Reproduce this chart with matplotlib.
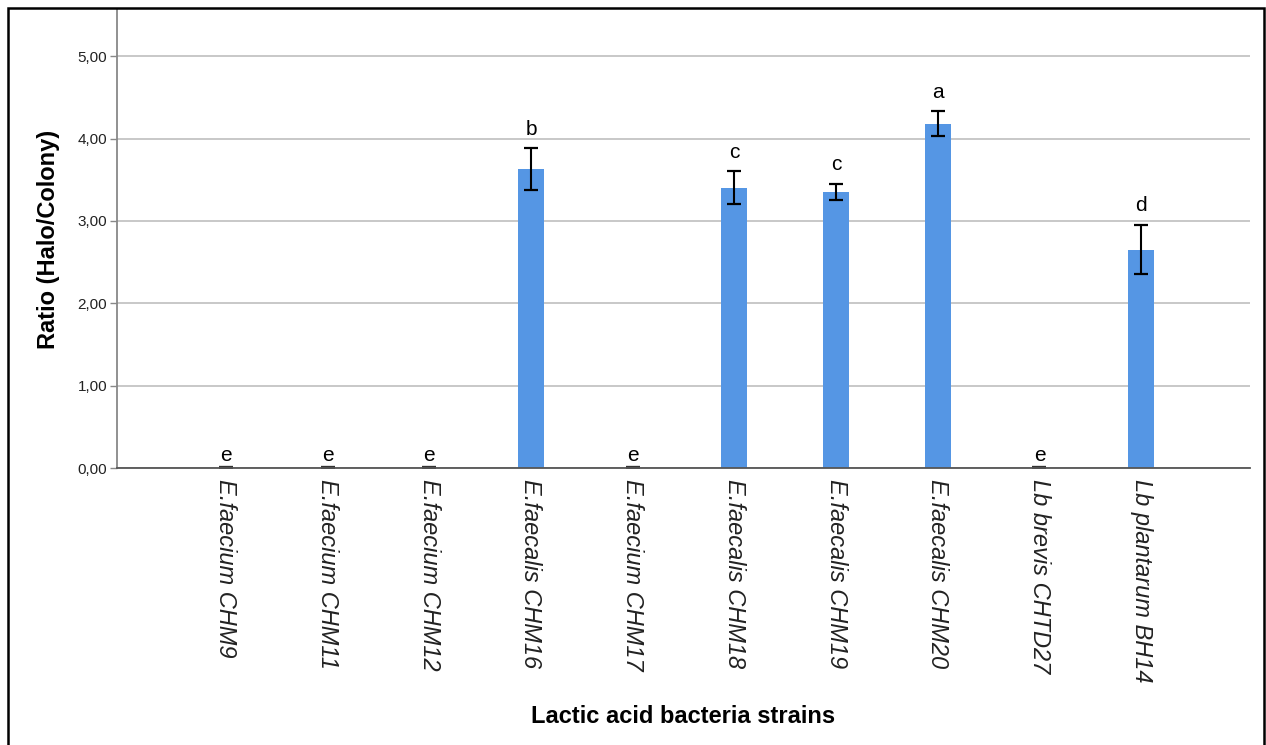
import matplotlib
matplotlib.use("Agg")
import matplotlib.pyplot as plt
from matplotlib.patches import Rectangle

plt.rcParams["font.family"] = ["Liberation Sans", "DejaVu Sans"]

strains = ["E.faecium CHM9", "E.faecium CHM11", "E.faecium CHM12", "E.faecalis CHM16",
           "E.faecium CHM17", "E.faecalis CHM18", "E.faecalis CHM19", "E.faecalis CHM20",
           "Lb brevis CHTD27", "Lb plantarum BH14"]
ratio = [0.00, 0.00, 0.00, 3.63, 0.00, 3.40, 3.35, 4.18, 0.00, 2.65]
sd = [0.00, 0.00, 0.00, 0.25, 0.00, 0.20, 0.10, 0.15, 0.00, 0.30]
groups = ["e", "e", "e", "b", "e", "c", "c", "a", "e", "d"]
yticks = [0, 1, 2, 3, 4, 5]

BAR = "#5596E4"
GRID = "#C8C8C8"

fig = plt.figure(figsize=(12.66, 7.45), dpi=100)
fig.patch.set_facecolor("white")
ax = fig.add_axes([117 / 1266, 1 - 468 / 745, (1250 - 117) / 1266, (468 - 10) / 745])

x = list(range(len(strains)))
ax.bar(x, ratio, width=0.255, color=BAR, zorder=3)
ax.errorbar(x, ratio, yerr=sd, fmt="none", ecolor="black", elinewidth=1.5,
            capsize=5, capthick=1.6, zorder=4)
# zero-height strains still show their (collapsed) error caps on the baseline
ax.errorbar([i for i in x if ratio[i] == 0], [0] * ratio.count(0), yerr=0, fmt="none",
            ecolor="#333333", capsize=5, capthick=3, zorder=4)

for i in x:
    top = ratio[i] + sd[i]
    ax.annotate(groups[i], (i, top), xytext=(0, 7 if ratio[i] else 2), textcoords="offset points",
                ha="center", va="bottom", fontsize=15, color="black")

ax.set_xlim(-1.07, len(strains) - 1 + 1.07)
ax.set_ylim(0, 5.56)
ax.set_yticks(yticks)
ax.set_yticklabels([f"{v:.2f}".replace(".", ",") for v in yticks], fontsize=11, color="#222222")
ax.tick_params(axis="y", length=5, width=1, color="#888888", pad=2)
ax.set_xticks(x)
ax.set_xticklabels(strains, rotation=-90, fontsize=17, fontstyle="italic", color="#222222",
                   ha="center", va="top")
ax.tick_params(axis="x", length=0, pad=8)

ax.yaxis.grid(True, color=GRID, lw=1.4, zorder=0)
ax.set_axisbelow(True)
for s in ["top", "right"]:
    ax.spines[s].set_visible(False)
ax.spines["left"].set_color("#888888")
ax.spines["left"].set_linewidth(1.3)
ax.spines["bottom"].set_color("#555555")
ax.spines["bottom"].set_linewidth(1.3)
ax.spines["bottom"].set_zorder(5)

ax.set_xlabel("Lactic acid bacteria strains", fontsize=17, fontweight="bold", labelpad=16)
ax.set_ylabel("Ratio (Halo/Colony)", fontsize=17, fontweight="bold", labelpad=13)

fig.patches.append(Rectangle((8 / 1266, -0.02), (1264 - 8) / 1266, 1.02 - 8 / 745,
                             transform=fig.transFigure, fill=False, ec="black", lw=1.8))

fig.savefig("out.png", dpi=100, facecolor="white")
